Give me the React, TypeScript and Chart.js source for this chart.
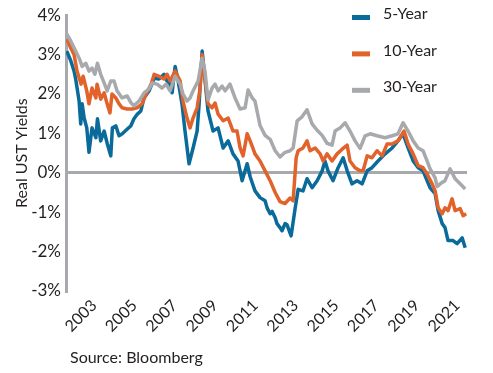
import React, { useEffect, useRef } from "react";
import { Chart, registerables } from "chart.js";

Chart.register(...registerables);

// Decimal years (time axis) and real yields in percent
const dates5 = [2001.45, 2001.65, 2001.81, 2001.89, 2002.06, 2002.14, 2002.21, 2002.31, 2002.44, 2002.55, 2002.70, 2002.89, 2002.97, 2003.13, 2003.30, 2003.46, 2003.63, 2003.71, 2003.88, 2004.04, 2004.20, 2004.45, 2004.62, 2004.78, 2004.95, 2005.12, 2005.28, 2005.53, 2005.78, 2006.02, 2006.27, 2006.42, 2006.57, 2006.67, 2006.82, 2006.97, 2007.16, 2007.31, 2007.51, 2007.71, 2007.91, 2008.01, 2008.16, 2008.26, 2008.45, 2008.70, 2008.95, 2009.20, 2009.45, 2009.69, 2009.94, 2010.14, 2010.39, 2010.54, 2010.78, 2011.03, 2011.28, 2011.38, 2011.53, 2011.63, 2011.78, 2011.87, 2012.02, 2012.12, 2012.27, 2012.37, 2012.57, 2012.77, 2012.92, 2013.16, 2013.36, 2013.61, 2013.86, 2014.11, 2014.25, 2014.40, 2014.65, 2014.90, 2015.15, 2015.35, 2015.59, 2015.84, 2016.09, 2016.34, 2016.58, 2016.88, 2017.23, 2017.58, 2017.87, 2018.12, 2018.37, 2018.62, 2018.87, 2019.11, 2019.31, 2019.46, 2019.71, 2019.86, 2020.06, 2020.20, 2020.35, 2020.60, 2020.80, 2021.05, 2021.20];
const real5 = [3.09, 2.84, 2.58, 2.38, 1.82, 1.24, 1.75, 1.39, 1.14, 0.52, 1.14, 0.89, 1.37, 0.81, 1.06, 0.73, 0.43, 1.14, 1.19, 0.94, 0.99, 1.11, 1.19, 1.37, 1.49, 1.57, 1.9, 2.08, 2.4, 2.38, 2.5, 2.33, 2.25, 2.03, 2.7, 2.33, 1.75, 1.06, 0.23, 0.63, 1.06, 1.75, 3.09, 2.58, 1.57, 1.06, 1.14, 0.63, 0.81, 0.48, 0.3, -0.2, 0.23, -0.1, -0.46, -0.63, -0.71, -0.89, -1.04, -0.98, -1.14, -1.29, -1.39, -1.47, -1.29, -1.32, -1.6, -0.9, -0.42, -0.46, -0.15, -0.38, -0.2, 0.05, 0.3, 0.05, -0.2, 0.13, 0.38, 0.05, -0.28, -0.2, -0.28, 0.05, 0.13, 0.3, 0.48, 0.63, 0.81, 0.99, 0.63, 0.3, 0.13, 0.05, -0.2, -0.38, -0.53, -0.96, -1.29, -1.39, -1.72, -1.72, -1.8, -1.65, -1.9];

const dates10 = [2001.45, 2001.65, 2001.81, 2001.96, 2002.16, 2002.26, 2002.44, 2002.55, 2002.70, 2002.89, 2002.95, 2003.13, 2003.30, 2003.45, 2003.59, 2003.69, 2003.88, 2004.04, 2004.19, 2004.44, 2004.69, 2004.93, 2005.18, 2005.38, 2005.63, 2005.78, 2006.02, 2006.27, 2006.42, 2006.57, 2006.82, 2007.07, 2007.21, 2007.41, 2007.56, 2007.71, 2007.91, 2008.06, 2008.16, 2008.30, 2008.45, 2008.65, 2008.80, 2008.95, 2009.20, 2009.45, 2009.69, 2009.89, 2010.04, 2010.19, 2010.39, 2010.54, 2010.78, 2011.03, 2011.28, 2011.53, 2011.78, 2012.02, 2012.27, 2012.52, 2012.67, 2012.82, 2012.92, 2013.16, 2013.36, 2013.51, 2013.76, 2014.01, 2014.16, 2014.35, 2014.60, 2014.85, 2015.10, 2015.35, 2015.49, 2015.74, 2015.99, 2016.14, 2016.34, 2016.58, 2016.83, 2017.08, 2017.33, 2017.58, 2017.87, 2018.17, 2018.37, 2018.62, 2018.87, 2019.11, 2019.31, 2019.56, 2019.71, 2019.86, 2020.06, 2020.20, 2020.35, 2020.55, 2020.70, 2020.95, 2021.10, 2021.25];
const real10 = [3.39, 3.16, 3.0, 2.58, 2.25, 2.45, 2.08, 1.75, 2.15, 1.9, 2.25, 1.87, 2.03, 1.75, 1.52, 2.0, 1.9, 1.75, 1.65, 1.62, 1.62, 1.65, 1.75, 2.0, 2.25, 2.5, 2.45, 2.38, 2.5, 2.33, 2.58, 2.33, 1.82, 1.39, 1.14, 1.39, 1.65, 2.15, 3.0, 2.4, 1.75, 1.65, 1.77, 1.49, 1.32, 1.39, 1.06, 1.06, 0.63, 0.43, 0.99, 0.81, 0.48, 0.3, 0.05, -0.2, -0.5, -0.73, -0.78, -0.64, -0.71, 0.38, 0.56, 0.63, 0.81, 0.56, 0.63, 0.48, 0.3, 0.48, 0.3, 0.48, 0.6, 0.7, 0.3, 0.13, 0.05, 0.05, 0.43, 0.38, 0.56, 0.43, 0.73, 0.73, 0.81, 1.06, 0.73, 0.48, 0.18, 0.13, -0.03, -0.28, -0.46, -0.89, -1.04, -0.89, -0.96, -0.66, -0.96, -0.91, -1.09, -1.04];

const dates30 = [2001.45, 2001.65, 2001.89, 2002.06, 2002.21, 2002.39, 2002.55, 2002.70, 2002.84, 2002.97, 2003.13, 2003.30, 2003.45, 2003.63, 2003.79, 2003.94, 2004.19, 2004.44, 2004.64, 2004.78, 2005.03, 2005.28, 2005.53, 2005.68, 2005.93, 2006.17, 2006.37, 2006.57, 2006.82, 2007.07, 2007.21, 2007.41, 2007.56, 2007.71, 2007.96, 2008.16, 2008.30, 2008.45, 2008.65, 2008.80, 2008.95, 2009.15, 2009.30, 2009.54, 2009.79, 2010.04, 2010.29, 2010.44, 2010.64, 2010.78, 2011.03, 2011.28, 2011.53, 2011.78, 2012.02, 2012.27, 2012.52, 2012.67, 2012.87, 2013.11, 2013.36, 2013.61, 2013.86, 2014.11, 2014.35, 2014.60, 2014.75, 2015.00, 2015.25, 2015.49, 2015.74, 2015.99, 2016.24, 2016.49, 2016.83, 2017.23, 2017.58, 2017.87, 2018.12, 2018.37, 2018.62, 2018.87, 2019.11, 2019.31, 2019.46, 2019.71, 2019.81, 2019.96, 2020.20, 2020.45, 2020.70, 2020.95, 2021.20];
const real30 = [3.52, 3.34, 3.09, 2.91, 2.7, 2.78, 2.58, 2.66, 2.5, 2.78, 2.5, 2.28, 2.08, 2.33, 2.33, 2.08, 1.9, 1.95, 1.77, 1.7, 1.82, 2.03, 2.13, 2.28, 2.25, 2.15, 2.25, 2.08, 2.45, 2.25, 2.0, 1.82, 1.9, 2.08, 2.33, 2.91, 2.58, 1.85, 2.15, 2.25, 2.08, 2.2, 2.08, 2.25, 1.9, 1.62, 1.65, 2.1, 1.9, 1.82, 1.2, 0.95, 0.85, 0.56, 0.4, 0.52, 0.56, 0.63, 1.32, 1.42, 1.6, 1.24, 1.08, 0.95, 0.75, 0.7, 1.06, 1.14, 1.27, 1.06, 0.81, 0.62, 0.94, 0.99, 0.94, 0.89, 0.94, 0.99, 1.27, 1.06, 0.81, 0.63, 0.56, 0.3, 0.1, -0.13, -0.35, -0.28, -0.2, 0.1, -0.15, -0.28, -0.41];

const seriesNames = ["5-Year", "10-Year", "30-Year"];
const seriesColors = ["#0a6b9b", "#e1622a", "#a7a9ac"];
const yearTicks = [2003, 2005, 2007, 2009, 2011, 2013, 2015, 2017, 2019, 2021];
const yTickValues = [-3, -2, -1, 0, 1, 2, 3, 4];
const xMin = 2001.41;
const xMax = 2021.29;
const yAxisTitle = "Real UST Yields";
const sourceText = "Source: Bloomberg";

const FONT = 'Lato, "Open Sans", sans-serif';
const TEXT = "#231f20";
const GRAY = "#a7a9ac";

const toPoints = (xs: number[], ys: number[]) => xs.map((x, i) => ({ x, y: ys[i] }));

const legendPlugin = {
  id: "sideLegend",
  afterDraw(chart: any) {
    const ctx = chart.ctx;
    ctx.save();
    chart.data.datasets.forEach((ds: any, i: number) => {
      const yc = 14 + i * 36.4;
      ctx.fillStyle = ds.borderColor;
      ctx.fillRect(352, yc + 1, 18, 5);
      ctx.fillStyle = TEXT;
      ctx.font = `16px ${FONT}`;
      ctx.textAlign = "left";
      ctx.textBaseline = "middle";
      ctx.fillText(ds.label, 383, yc);
    });
    ctx.restore();
  },
};

export default function App() {
  const ref = useRef<HTMLCanvasElement | null>(null);

  useEffect(() => {
    if (!ref.current) return;
    const chart = new Chart(ref.current, {
      type: "line",
      data: {
        datasets: [
          { label: seriesNames[0], data: toPoints(dates5, real5), borderColor: seriesColors[0], order: 3 },
          { label: seriesNames[1], data: toPoints(dates10, real10), borderColor: seriesColors[1], order: 2 },
          { label: seriesNames[2], data: toPoints(dates30, real30), borderColor: seriesColors[2], order: 1 },
        ],
      },
      options: {
        responsive: false,
        animation: false,
        devicePixelRatio: 1,
        layout: { padding: { top: 12, right: 26, left: 0, bottom: 0 } },
        elements: {
          line: { borderWidth: 3.5, tension: 0, borderJoinStyle: "round" },
          point: { radius: 0 },
        },
        plugins: {
          legend: { display: false },
          tooltip: { enabled: false },
        },
        scales: {
          x: {
            type: "linear",
            min: xMin,
            max: xMax,
            afterBuildTicks: (scale: any) => {
              scale.ticks = yearTicks.map((v) => ({ value: v }));
            },
            afterFit: (scale: any) => {
              scale.height = 82;
            },
            grid: { display: false, drawTicks: false },
            border: { display: false },
            ticks: {
              autoSkip: false,
              maxRotation: 45,
              minRotation: 45,
              padding: 5,
              labelOffset: -4,
              color: TEXT,
              font: { family: FONT, size: 16 },
              callback: (v: any) => String(v),
            },
          },
          y: {
            min: -3,
            max: 4,
            afterBuildTicks: (scale: any) => {
              scale.ticks = yTickValues.map((v) => ({ value: v }));
            },
            afterFit: (scale: any) => {
              scale.width = 66;
            },
            grid: {
              drawTicks: false,
              lineWidth: 3,
              color: (c: any) => (c.tick && c.tick.value === 0 ? GRAY : "rgba(0,0,0,0)"),
            },
            border: { display: true, color: GRAY, width: 3 },
            title: {
              display: true,
              text: yAxisTitle,
              color: TEXT,
              font: { family: FONT, size: 16 },
              padding: { top: 12, bottom: 0 },
            },
            ticks: {
              padding: 5,
              color: TEXT,
              font: { family: FONT, size: 17 },
              callback: (v: any) => `${v}%`,
            },
          },
        },
      },
      plugins: [legendPlugin],
    } as any);
    return () => chart.destroy();
  }, []);

  return (
    <div style={{ position: "fixed", left: 0, top: 0, width: 493, height: 373, background: "#fff" }}>
      <canvas ref={ref} width={493} height={373} style={{ display: "block", width: 493, height: 373 }} />
      <div
        style={{
          position: "absolute",
          left: 70,
          top: 347,
          fontFamily: FONT,
          fontSize: 16,
          lineHeight: "20px",
          color: TEXT,
          whiteSpace: "nowrap",
        }}
      >
        {sourceText}
      </div>
    </div>
  );
}
